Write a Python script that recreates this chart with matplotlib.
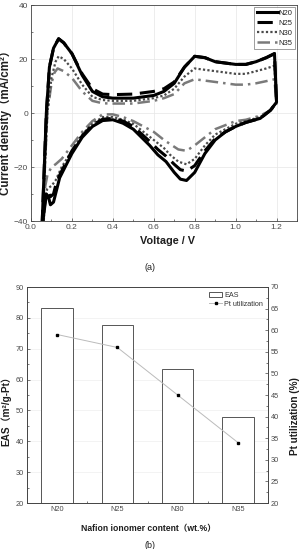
import matplotlib
matplotlib.use("Agg")
import matplotlib.pyplot as plt
from matplotlib.ticker import MultipleLocator

# ---------------- Data (a): cyclic voltammograms ----------------
# anodic (upper) branches, V ascending; cathodic (lower) branches, V descending
n20_up_v = [0.050, 0.055, 0.065, 0.075, 0.09, 0.11, 0.135, 0.16, 0.20, 0.25, 0.30, 0.35, 0.40, 0.50, 0.60, 0.65, 0.70, 0.75, 0.80, 0.85, 0.90, 0.95, 1.00, 1.05, 1.10, 1.15, 1.19]
n20_up_j = [-50, -40, -20, 0, 17, 24, 27.5, 26, 22, 14, 8, 6, 5.5, 5.5, 6.5, 8, 11, 17, 21, 20.5, 19, 18.5, 18, 18, 19, 20.5, 22]
n20_dn_v = [1.19, 1.20, 1.17, 1.12, 1.05, 1.00, 0.95, 0.90, 0.85, 0.80, 0.76, 0.73, 0.70, 0.66, 0.62, 0.58, 0.50, 0.45, 0.40, 0.35, 0.30, 0.25, 0.20, 0.16, 0.14, 0.12, 0.11, 0.095, 0.085, 0.075, 0.065, 0.058, 0.050]
n20_dn_j = [22, 4, 1, -2, -3.5, -5, -7, -10, -15, -22, -25, -24.5, -22, -18, -15.5, -12, -6, -3.8, -2.5, -2.8, -5, -9, -15, -21, -24, -30, -33, -34, -31, -30, -36, -40, -50]

n25_up_v = [0.050, 0.055, 0.065, 0.075, 0.09, 0.11, 0.135, 0.16, 0.20, 0.25, 0.30, 0.35, 0.40, 0.50, 0.60, 0.65, 0.70, 0.75, 0.80, 0.85, 0.90, 0.95, 1.00, 1.05, 1.10, 1.15, 1.19]
n25_up_j = [-50, -40, -20, 0, 17, 24, 27.5, 26, 22, 14.5, 9, 7, 6.8, 7, 8, 9, 11.5, 17, 21, 20.5, 19, 18.5, 18, 18, 19, 20.5, 22]
n25_dn_v = [1.19, 1.20, 1.17, 1.12, 1.05, 1.00, 0.95, 0.90, 0.85, 0.80, 0.76, 0.73, 0.70, 0.66, 0.62, 0.58, 0.50, 0.45, 0.40, 0.35, 0.30, 0.25, 0.20, 0.16, 0.14, 0.12, 0.11, 0.095, 0.085, 0.075, 0.065, 0.058, 0.050]
n25_dn_j = [22, 4, 1, -2, -3.5, -5, -7, -9.5, -14, -19.5, -21.5, -21, -19, -16, -13.5, -10.5, -5, -3, -2, -2.3, -4.5, -8.5, -14, -20, -23, -27, -30, -31, -29.5, -29, -35, -40, -50]

n30_up_v = [0.052, 0.058, 0.068, 0.08, 0.10, 0.12, 0.135, 0.16, 0.20, 0.25, 0.30, 0.35, 0.40, 0.50, 0.60, 0.65, 0.70, 0.75, 0.80, 0.85, 0.90, 0.95, 1.00, 1.05, 1.10, 1.15, 1.19]
n30_up_j = [-50, -40, -20, 0, 13, 19, 21, 20, 16.5, 10.5, 6, 4.8, 4.5, 4.5, 5.5, 6.5, 9, 13.5, 16.5, 16, 15.5, 15, 14.5, 14.5, 15.5, 16.5, 17.5]
n30_dn_v = [1.19, 1.20, 1.17, 1.12, 1.05, 1.00, 0.95, 0.90, 0.85, 0.80, 0.76, 0.72, 0.68, 0.65, 0.60, 0.55, 0.50, 0.45, 0.40, 0.35, 0.30, 0.25, 0.20, 0.15, 0.12, 0.10, 0.08, 0.07, 0.062, 0.052]
n30_dn_j = [17.5, 4, 1, -1.5, -3, -4, -6, -8, -12, -17, -19, -18, -15.5, -13, -10, -7, -4, -2.5, -1.5, -1.5, -4, -8, -14, -20, -25, -27, -28, -31, -40, -50]

n35_up_v = [0.052, 0.058, 0.068, 0.08, 0.10, 0.115, 0.13, 0.16, 0.20, 0.25, 0.30, 0.35, 0.40, 0.50, 0.60, 0.65, 0.70, 0.75, 0.80, 0.85, 0.90, 0.95, 1.00, 1.05, 1.10, 1.15, 1.19]
n35_up_j = [-50, -40, -20, 0, 11, 15, 16.5, 15.5, 13, 8, 4.5, 3.6, 3.5, 3.5, 4.5, 5.5, 7, 11, 12.5, 12, 11.5, 11, 10.5, 10.5, 11, 11.8, 12.5]
n35_dn_v = [1.19, 1.20, 1.17, 1.12, 1.05, 1.00, 0.95, 0.90, 0.85, 0.80, 0.76, 0.72, 0.68, 0.65, 0.60, 0.55, 0.50, 0.45, 0.40, 0.35, 0.30, 0.25, 0.20, 0.15, 0.12, 0.10, 0.08, 0.07, 0.062, 0.052]
n35_dn_j = [12.5, 3, 1, -1, -2.5, -3, -4.5, -6, -9, -12, -14, -13.5, -11.5, -10, -7, -5, -3, -1.5, -0.5, -0.5, -3, -7, -12, -17, -19, -20, -23, -27, -40, -50]

cv_labels = ["N20", "N25", "N30", "N35"]

# ---------------- Data (b): EAS & Pt utilization ----------------
samples = ["N20", "N25", "N30", "N35"]
eas = [83.2, 77.7, 63.5, 47.8]
pt_util = [59, 56, 45, 34]

# ---------------- Figure ----------------
W, H = 299, 549
plt.rcParams['font.family'] = ['Liberation Sans', 'Noto Sans CJK SC', 'DejaVu Sans']
fig = plt.figure(figsize=(W / 100, H / 100), dpi=100)
LBL_FAM = ['Liberation Sans', 'Noto Sans CJK SC', 'DejaVu Sans']

def ax_rect(l, t, r, b):
    return [l / W, 1 - b / H, (r - l) / W, (b - t) / H]

tick_color = '#4a4a4a'
lbl_color = '#1e1e1e'

def style_ticks(a, size):
    a.tick_params(which='both', direction='in', labelsize=size, colors='#444444',
                  labelcolor=tick_color, width=0.5, pad=2)
    a.tick_params(which='major', length=2.5)
    a.tick_params(which='minor', length=1.5)
    for s in a.spines.values():
        s.set_linewidth(0.6)
        s.set_color('#444444')

# ----- (a) -----
ax1 = fig.add_axes(ax_rect(31, 5, 297, 221))
styles = [
    dict(color='black', lw=2.2, ls='-'),
    dict(color='black', lw=2.2, ls=(0, (5, 2.5))),
    dict(color='#4a4a4a', lw=1.6, ls=(0, (1, 1))),
    dict(color='#7a7a7a', lw=1.8, ls=(0, (5, 2, 1, 2))),
]
data = [(n20_up_v, n20_up_j, n20_dn_v, n20_dn_j),
        (n25_up_v, n25_up_j, n25_dn_v, n25_dn_j),
        (n30_up_v, n30_up_j, n30_dn_v, n30_dn_j),
        (n35_up_v, n35_up_j, n35_dn_v, n35_dn_j)]
handles = [None] * 4
for i in [3, 2, 1, 0]:
    uv, uj, dv, dj = data[i]
    h, = ax1.plot(list(uv) + list(dv), list(uj) + list(dj), label=cv_labels[i],
                  solid_joinstyle='round', **styles[i])
    handles[i] = h
ax1.set_xlim(0, 1.3)
ax1.set_ylim(-40, 40)
ax1.xaxis.set_major_locator(MultipleLocator(0.2))
ax1.xaxis.set_minor_locator(MultipleLocator(0.1))
ax1.yaxis.set_major_locator(MultipleLocator(20))
ax1.yaxis.set_minor_locator(MultipleLocator(10))
ax1.grid(True, which='major', color='#e6e6e6', lw=0.5)
ax1.set_axisbelow(True)
style_ticks(ax1, 6)
ax1.set_xlabel("Voltage / V", fontsize=7.8, fontweight='bold', color=lbl_color, family=LBL_FAM)
ax1.xaxis.set_label_coords((168 - 31) / 266, -(236 - 221) / 216)
ax1.set_ylabel("Current density（mA/cm²）", fontsize=8.3, fontweight='bold', color=lbl_color, family=LBL_FAM)
ax1.yaxis.set_label_coords((12 - 31) / 266, (221 - 120) / 216)
leg = ax1.legend(handles=handles, loc='upper right', fontsize=5.5, frameon=True, fancybox=False,
                 edgecolor='#555555', handlelength=2.8, handletextpad=0.1, borderpad=0.3,
                 labelspacing=0.35, borderaxespad=0.25)
leg.get_frame().set_linewidth(0.5)
for t in leg.get_texts():
    t.set_color('#222222')
fig.text(150 / W, 1 - 267 / H, "(a)", fontsize=6.5, ha='center', va='center', color='#222222')

# ----- (b) -----
ax2 = fig.add_axes(ax_rect(27, 287, 268, 503))
x = list(range(len(samples)))
bars = ax2.bar(x, eas, width=0.52, color='white', edgecolor='#555555', lw=0.7, label='EAS', zorder=2)
ax2.set_ylim(20, 90)
ax2.set_xlim(-0.5, 3.5)
ax2.set_xticks(x)
ax2.set_xticklabels(samples)
ax2.xaxis.set_minor_locator(MultipleLocator(0.5))
ax2.yaxis.set_major_locator(MultipleLocator(10))
ax2.yaxis.set_minor_locator(MultipleLocator(5))
ax2.grid(True, axis='y', which='major', color='#eeeeee', lw=0.5)
ax2.set_axisbelow(True)
style_ticks(ax2, 5.3)
ax2.set_ylabel("EAS（m²/g-Pt）", fontsize=7.2, fontweight='bold', color=lbl_color, family=LBL_FAM)
ax2.yaxis.set_label_coords((11 - 27) / 241, (503 - 409) / 216)
ax2.set_xlabel("Nafion ionomer content（wt.%）", fontsize=6.2, fontweight='bold', color=lbl_color, family=LBL_FAM)
ax2.xaxis.set_label_coords((148 - 27) / 241, -(524 - 503) / 216)

ax3 = ax2.twinx()
line, = ax3.plot(x, pt_util, color='#bbbbbb', lw=0.7, marker='s', markersize=1.6,
                 markerfacecolor='black', markeredgecolor='black', label='Pt utilization', zorder=3)
ax3.set_ylim(20, 70)
ax3.yaxis.set_major_locator(MultipleLocator(5))
ax3.yaxis.set_minor_locator(MultipleLocator(2.5))
style_ticks(ax3, 5.3)
ax3.set_ylabel("Pt utilization (%)", fontsize=7.2, fontweight='bold', color=lbl_color, family=LBL_FAM)
ax3.yaxis.set_label_coords((290 - 27) / 241, (503 - 416) / 216)

leg2 = ax3.legend([bars, line], ['EAS', 'Pt utilization'], loc='upper right', fontsize=5.2,
                  frameon=False, handlelength=1.8, handletextpad=0.3, labelspacing=0.3,
                  borderaxespad=0.25)
for t in leg2.get_texts():
    t.set_color('#333333')
fig.text(150 / W, 1 - 546 / H, "(b)", fontsize=6.5, ha='center', va='center', color='#222222')

fig.savefig("out.png", dpi=100)
